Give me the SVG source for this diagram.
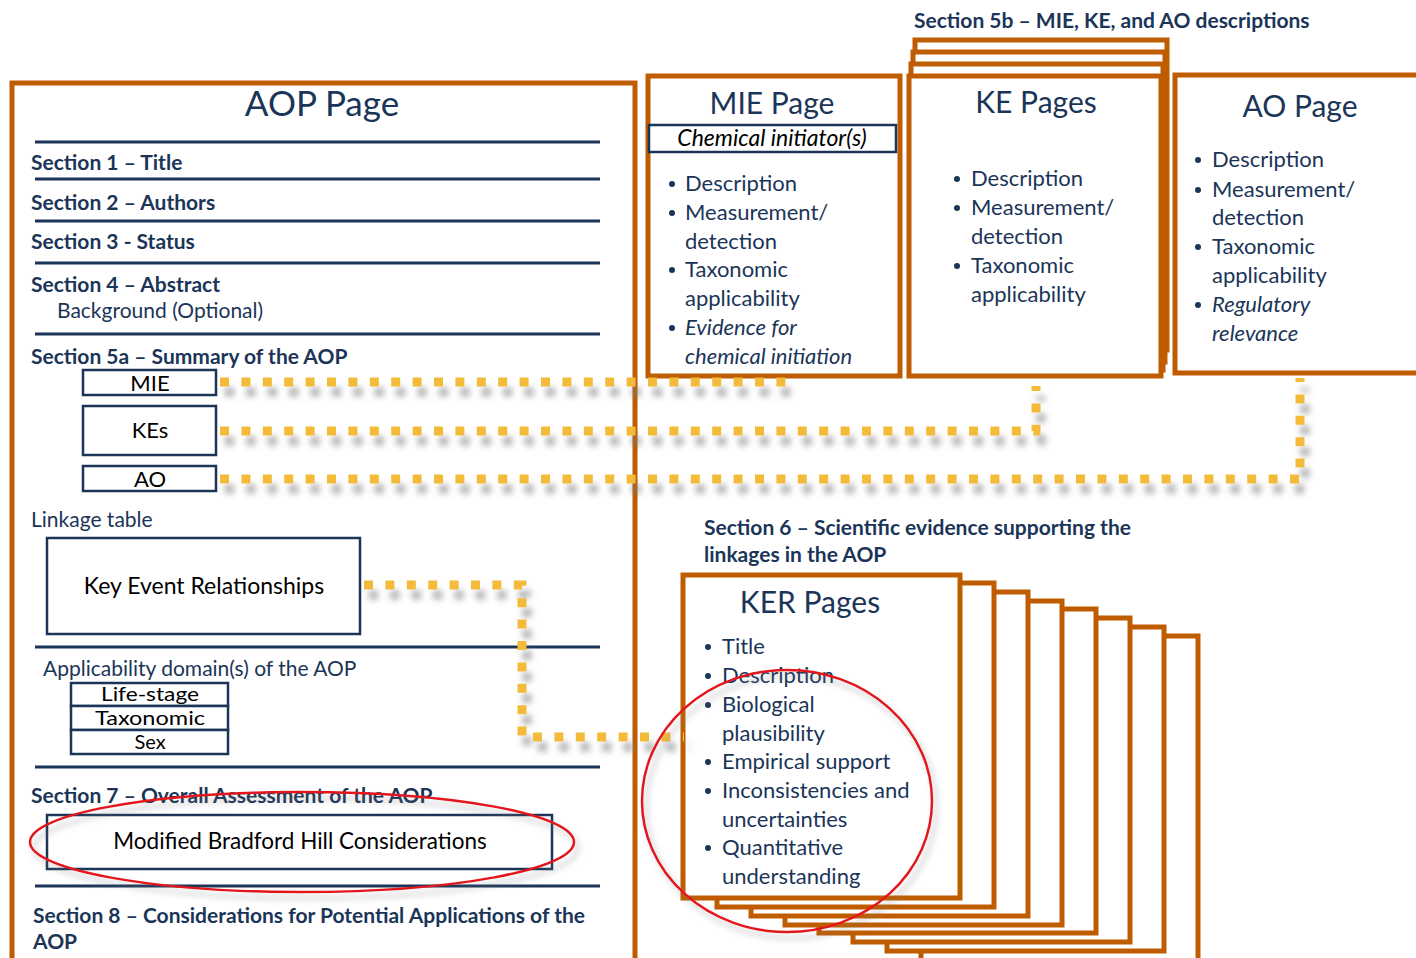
<svg xmlns="http://www.w3.org/2000/svg" width="1416" height="958" viewBox="0 0 1416 958">
<defs>
<filter id="sh" x="-10%" y="-50%" width="120%" height="300%">
<feGaussianBlur in="SourceAlpha" stdDeviation="3" result="b"/>
<feOffset in="b" dx="5" dy="10" result="o"/>
<feFlood flood-color="#7a7a7a" flood-opacity="0.6"/>
<feComposite in2="o" operator="in" result="s"/>
<feMerge><feMergeNode in="s"/><feMergeNode in="SourceGraphic"/></feMerge>
</filter>
<filter id="rsh" x="-20%" y="-20%" width="140%" height="140%">
<feGaussianBlur in="SourceAlpha" stdDeviation="3" result="b"/>
<feOffset in="b" dx="4" dy="6" result="o"/>
<feFlood flood-color="#808080" flood-opacity="0.5"/>
<feComposite in2="o" operator="in" result="s"/>
<feMerge><feMergeNode in="s"/><feMergeNode in="SourceGraphic"/></feMerge>
</filter>
</defs>
<style>
text{font-family:Lato,"Open Sans","Liberation Sans",sans-serif;}
.pg{fill:#fff;stroke:#BF5C00;stroke-width:5;}
.pgn{fill:none;stroke:#BF5C00;stroke-width:5;}
.hl{stroke:#1B3558;stroke-width:3;}
.nb{fill:#fff;stroke:#1B3558;stroke-width:2.5;}
.ttl{font-size:32px;fill:#1B3558;text-anchor:middle;}
.sec{font-size:21px;font-weight:bold;fill:#1B3558;}
.nv{font-size:21px;fill:#1B3558;}
.bk{font-size:22px;fill:#000;text-anchor:middle;}
.tb{font-size:20px;fill:#000;text-anchor:middle;}
.bl{font-size:22px;fill:#1B3558;}
.it{font-style:italic;}
.dot{fill:#1B3558;}
.dash{fill:none;stroke:#F4BB3A;stroke-width:9;stroke-dasharray:9 12.4;}
.red{fill:none;stroke:#E3141E;stroke-width:2.5;}
</style>

<g id="aop-page">
<rect class="pgn" x="12" y="83" width="623" height="900"/>
<text class="ttl" x="322" y="116" style="font-size:35px">AOP Page</text>
<line class="hl" x1="35" y1="142" x2="600" y2="142"/>
<text class="sec" x="31" y="170">Section 1 – Title</text>
<line class="hl" x1="35" y1="179" x2="600" y2="179"/>
<text class="sec" x="31" y="210">Section 2 – Authors</text>
<line class="hl" x1="35" y1="221" x2="600" y2="221"/>
<text class="sec" x="31" y="249">Section 3 - Status</text>
<line class="hl" x1="35" y1="263" x2="600" y2="263"/>
<text class="sec" x="31" y="292">Section 4 – Abstract</text>
<text class="nv" x="57" y="318">Background (Optional)</text>
<line class="hl" x1="35" y1="334" x2="600" y2="334"/>
<text class="sec" x="31" y="364">Section 5a – Summary of the AOP</text>
<text class="nv" x="31" y="527">Linkage table</text>
<line class="hl" x1="35" y1="647" x2="600" y2="647"/>
<text class="nv" x="43" y="676">Applicability domain(s) of the AOP</text>
<line class="hl" x1="35" y1="767" x2="600" y2="767"/>
<text class="sec" x="31" y="803">Section 7 – Overall Assessment of the AOP</text>
<line class="hl" x1="35" y1="886" x2="600" y2="886"/>
<text class="sec" x="33" y="923">Section 8 – Considerations for Potential Applications of the</text>
<text class="sec" x="33" y="949">AOP</text>
</g>

<g id="mie-box"><rect class="nb" x="83" y="370" width="133" height="25"/><text class="bk" x="150" y="391">MIE</text></g>
<g id="kes-box"><rect class="nb" x="83" y="406" width="133" height="49"/><text class="bk" x="150" y="438">KEs</text></g>
<g id="ao-box"><rect class="nb" x="83" y="466" width="133" height="25"/><text class="bk" x="150" y="487">AO</text></g>
<g id="ker-box"><rect class="nb" x="47" y="538" width="313" height="96"/><text class="bk" x="204" y="594" style="font-size:23px">Key Event Relationships</text></g>
<g id="domain-table">
<rect class="nb" x="71" y="683" width="157" height="23"/><text class="tb" x="150" y="701" textLength="98" lengthAdjust="spacingAndGlyphs">Life-stage</text>
<rect class="nb" x="71" y="706" width="157" height="24"/><text class="tb" x="150" y="725" textLength="110" lengthAdjust="spacingAndGlyphs">Taxonomic</text>
<rect class="nb" x="71" y="730" width="157" height="24"/><text class="tb" x="150" y="749">Sex</text>
</g>
<g id="bradford-box"><rect class="nb" x="47" y="815" width="505" height="54"/><text class="bk" x="300" y="849" style="font-size:22.5px">Modified Bradford Hill Considerations</text></g>

<text class="sec" x="914" y="28">Section 5b – MIE, KE, and AO descriptions</text>

<g id="mie-page">
<rect class="pg" x="648" y="76" width="252" height="300"/>
<text class="ttl" x="772" y="114" style="font-size:30px">MIE Page</text>
<rect class="nb" x="649" y="125" width="247" height="27"/>
<text class="bk it" x="772" y="146" style="font-size:23px">Chemical initiator(s)</text>
<circle class="dot" cx="672" cy="184" r="3"/><text class="bl" x="685" y="191">Description</text>
<circle class="dot" cx="672" cy="213" r="3"/><text class="bl" x="685" y="220">Measurement/</text>
<text class="bl" x="685" y="249">detection</text>
<circle class="dot" cx="672" cy="270" r="3"/><text class="bl" x="685" y="277">Taxonomic</text>
<text class="bl" x="685" y="306">applicability</text>
<circle class="dot" cx="672" cy="328" r="3"/><text class="bl it" x="685" y="335">Evidence for</text>
<text class="bl it" x="685" y="364">chemical initiation</text>
</g>

<g id="ke-pages">
<rect class="pg" x="915" y="40" width="252" height="310"/>
<rect class="pg" x="913" y="52" width="252" height="310"/>
<rect class="pg" x="911" y="64" width="252" height="306"/>
<rect class="pg" x="909" y="76" width="252" height="300"/>
<text class="ttl" x="1036" y="113" style="font-size:30px">KE Pages</text>
<circle class="dot" cx="957" cy="179" r="3"/><text class="bl" x="971" y="186">Description</text>
<circle class="dot" cx="957" cy="208" r="3"/><text class="bl" x="971" y="215">Measurement/</text>
<text class="bl" x="971" y="244">detection</text>
<circle class="dot" cx="957" cy="266" r="3"/><text class="bl" x="971" y="273">Taxonomic</text>
<text class="bl" x="971" y="302">applicability</text>
</g>

<g id="ao-page">
<rect class="pg" x="1175" y="75" width="260" height="298"/>
<text class="ttl" x="1300" y="117" style="font-size:30px">AO Page</text>
<circle class="dot" cx="1198" cy="160" r="3"/><text class="bl" x="1212" y="167">Description</text>
<circle class="dot" cx="1198" cy="190" r="3"/><text class="bl" x="1212" y="197">Measurement/</text>
<text class="bl" x="1212" y="225">detection</text>
<circle class="dot" cx="1198" cy="247" r="3"/><text class="bl" x="1212" y="254">Taxonomic</text>
<text class="bl" x="1212" y="283">applicability</text>
<circle class="dot" cx="1198" cy="305" r="3"/><text class="bl it" x="1212" y="312">Regulatory</text>
<text class="bl it" x="1212" y="341">relevance</text>
</g>

<text class="sec" x="704" y="535">Section 6 – Scientific evidence supporting the</text>
<text class="sec" x="704" y="562">linkages in the AOP</text>

<g id="ker-pages">
<rect class="pg" x="921" y="636" width="277" height="330"/>
<rect class="pg" x="887" y="627" width="277" height="324"/>
<rect class="pg" x="853" y="618" width="277" height="324"/>
<rect class="pg" x="819" y="609" width="277" height="324"/>
<rect class="pg" x="785" y="601" width="277" height="324"/>
<rect class="pg" x="751" y="592" width="277" height="324"/>
<rect class="pg" x="717" y="583" width="277" height="324"/>
<rect class="pg" x="683" y="575" width="277" height="323"/>
<text class="ttl" x="810" y="613" style="font-size:30px">KER Pages</text>
<circle class="dot" cx="708" cy="647" r="3"/><text class="bl" x="722" y="654">Title</text>
<circle class="dot" cx="708" cy="676" r="3"/><text class="bl" x="722" y="683">Description</text>
<circle class="dot" cx="708" cy="705" r="3"/><text class="bl" x="722" y="712">Biological</text>
<text class="bl" x="722" y="741">plausibility</text>
<circle class="dot" cx="708" cy="762" r="3"/><text class="bl" x="722" y="769">Empirical support</text>
<circle class="dot" cx="708" cy="791" r="3"/><text class="bl" x="722" y="798">Inconsistencies and</text>
<text class="bl" x="722" y="827">uncertainties</text>
<circle class="dot" cx="708" cy="848" r="3"/><text class="bl" x="722" y="855">Quantitative</text>
<text class="bl" x="722" y="884">understanding</text>
</g>

<g id="connectors" filter="url(#sh)">
<path class="dash" d="M220 382 H795"/>
<path class="dash" d="M220 431 H1036 V386"/>
<path class="dash" d="M220 479 H1300 V378"/>
<path class="dash" d="M364 585 H522 V737 H684"/>
</g>

<g id="highlights" filter="url(#rsh)">
<ellipse class="red" cx="302" cy="842" rx="272" ry="50"/>
<ellipse class="red" cx="787" cy="801" rx="145" ry="131"/>
</g>
</svg>
